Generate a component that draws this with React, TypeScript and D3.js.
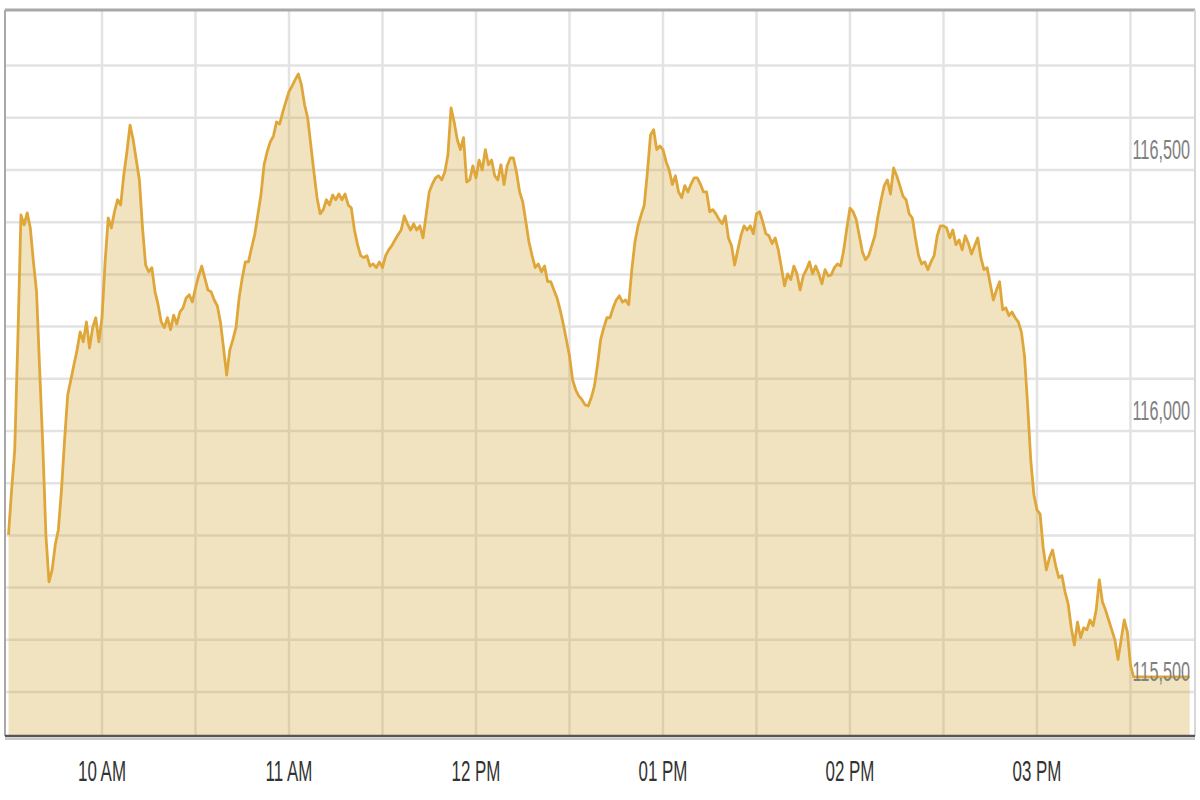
import React from "react";
import * as d3 from "d3";

// Intraday index values, one per minute starting 09:30
const prices: number[] = [
  115801, 115887, 115964, 116175, 116414, 116395, 116418, 116389, 116324, 116267,
  116117, 115973, 115801, 115711, 115734, 115782, 115811, 115887, 115983, 116069,
  116098, 116127, 116155, 116190, 116171, 116209, 116159, 116198, 116217, 116171,
  116217, 116324, 116408, 116389, 116420, 116443, 116433, 116491, 116535, 116586,
  116558, 116519, 116481, 116389, 116318, 116305, 116313, 116267, 116242, 116209,
  116198, 116217, 116194, 116222, 116205, 116228, 116236, 116255, 116261, 116247,
  116274, 116297, 116316, 116293, 116270, 116267, 116251, 116240, 116209, 116159,
  116107, 116155, 116175, 116198, 116255, 116293, 116324, 116324, 116351, 116376,
  116414, 116452, 116510, 116535, 116554, 116565, 116592, 116588, 116611, 116631,
  116650, 116661, 116673, 116684, 116663, 116625, 116600, 116548, 116496, 116447,
  116416, 116424, 116443, 116433, 116452, 116443, 116454, 116443, 116454, 116433,
  116427, 116385, 116357, 116336, 116332, 116336, 116316, 116320, 116313, 116324,
  116313, 116336, 116347, 116355, 116366, 116376, 116385, 116412, 116397, 116385,
  116397, 116385, 116393, 116370, 116414, 116458, 116473, 116485, 116489, 116481,
  116496, 116529, 116619, 116592, 116558, 116539, 116562, 116477, 116481, 116508,
  116485, 116519, 116500, 116539, 116510, 116519, 116489, 116481, 116510, 116472,
  116508, 116523, 116523, 116496, 116458, 116439, 116401, 116362, 116336, 116313,
  116320, 116305, 116316, 116286, 116286, 116270, 116255, 116232, 116205, 116175,
  116144, 116098, 116079, 116067, 116060, 116050, 116048, 116064, 116086, 116127,
  116175, 116198, 116217, 116217, 116236, 116251, 116259, 116247, 116251, 116242,
  116309, 116362, 116393, 116414, 116433, 116496, 116567, 116577, 116539, 116546,
  116539, 116516, 116500, 116472, 116489, 116458, 116447, 116470, 116458, 116473,
  116485, 116485, 116473, 116458, 116458, 116420, 116424, 116416, 116405, 116397,
  116412, 116370, 116355, 116318, 116347, 116374, 116393, 116385, 116393, 116378,
  116416, 116420, 116401, 116378, 116374, 116359, 116370, 116347, 116313, 116278,
  116301, 116290, 116316, 116301, 116270, 116297, 116309, 116324, 116301, 116316,
  116301, 116282, 116309, 116297, 116299, 116313, 116320, 116316, 116347, 116389,
  116427, 116420, 116405, 116374, 116343, 116328, 116336, 116355, 116374, 116412,
  116443, 116470, 116481, 116454, 116504, 116489, 116470, 116450, 116443, 116416,
  116408, 116370, 116336, 116320, 116324, 116309, 116324, 116336, 116374, 116393,
  116393, 116389, 116370, 116385, 116357, 116366, 116347, 116374, 116359, 116339,
  116355, 116370, 116332, 116309, 116313, 116282, 116251, 116270, 116286, 116232,
  116236, 116221, 116228, 116217, 116209, 116190, 116144, 116050, 115945, 115878,
  115849, 115841, 115776, 115734, 115757, 115772, 115742, 115719, 115723, 115692,
  115669, 115623, 115590, 115634, 115604, 115623, 115619, 115638, 115627, 115657,
  115715, 115673, 115657, 115638, 115619, 115600, 115562, 115600, 115638, 115615,
  115552, 115529, 115529, 115529, 115529, 115529, 115529, 115529, 115529, 115529,
  115529, 115529, 115529, 115529, 115529, 115529, 115529, 115529, 115529, 115529,
];

const hourTicks: number[] = [10, 11, 12, 13, 14, 15];
const halfHourGrid: number[] = [10, 10.5, 11, 11.5, 12, 12.5, 13, 13.5, 14, 14.5, 15, 15.5];
const yLabelValues: number[] = [115500, 116000, 116500];
const yGridValues: number[] = [115500, 115600, 115700, 115800, 115900, 116000, 116100, 116200, 116300, 116400, 116500, 116600, 116700];

const day = (h: number, m = 0) => new Date(2024, 0, 2, h, m);

export default function App() {
  const W = 1200, H = 800;
  const left = 5, right = 1195, top = 10, bottom = 736;

  const start = day(9, 30);
  const data = prices.map((v, i) => ({ t: d3.timeMinute.offset(start, i), v }));

  const x = d3.scaleTime().domain([day(9, 30), day(15, 50)]).range([8.5, 1192.8]);
  const y = d3.scaleLinear().domain([115500, 116500]).range([692, 170]);

  const area = d3.area<{ t: Date; v: number }>()
    .x(d => x(d.t)).y0(bottom).y1(d => y(d.v));
  const line = d3.line<{ t: Date; v: number }>()
    .x(d => x(d.t)).y(d => y(d.v));

  const fmtHour = d3.timeFormat("%I %p");
  const fmtNum = d3.format(",");

  const hToDate = (h: number) => day(Math.floor(h), Math.round((h % 1) * 60));
  const font = "Liberation Sans, Arial, sans-serif";

  return (
    <svg width={W} height={H} style={{ position: "absolute", left: 0, top: 0, background: "#fff" }}>
      {/* grid */}
      {yGridValues.map(v => (
        <line key={"h" + v} x1={left} x2={right} y1={y(v)} y2={y(v)} stroke="#e3e3e3" strokeWidth={2.5} />
      ))}
      {halfHourGrid.map(h => (
        <line key={"v" + h} x1={x(hToDate(h))} x2={x(hToDate(h))} y1={top} y2={bottom} stroke="#e3e3e3" strokeWidth={2.5} />
      ))}
      {/* area + line */}
      <path d={area(data) || ""} fill="rgb(208,162,45)" fillOpacity={0.3} />
      <path d={line(data) || ""} fill="none" stroke="#dfa63a" strokeWidth={2.8} strokeLinejoin="round" />
      {/* frame */}
      <line x1={left} x2={right} y1={top} y2={top} stroke="#a8a8a8" strokeWidth={3} />
      <line x1={left} x2={left} y1={top} y2={bottom} stroke="#a8a8a8" strokeWidth={2} />
      <line x1={right} x2={right} y1={top} y2={bottom} stroke="#d8d8d8" strokeWidth={2} />
      <line x1={left} x2={right} y1={bottom + 3} y2={bottom + 3} stroke="#c8c8c8" strokeWidth={2} />
      <line x1={left} x2={right} y1={bottom} y2={bottom} stroke="#555" strokeWidth={2.5} />
      {/* y labels */}
      {yLabelValues.map(v => (
        <text key={"yl" + v} transform={`translate(1190,${y(v) - 11}) scale(0.58,1)`} textAnchor="end"
          fontFamily={font} fontSize={28} fill="#808080">{fmtNum(v)}</text>
      ))}
      {/* x labels */}
      {hourTicks.map(h => (
        <text key={"xl" + h} transform={`translate(${x(day(h))},781) scale(0.565,1)`} textAnchor="middle"
          fontFamily={font} fontSize={30} fill="#333">{fmtHour(day(h))}</text>
      ))}
    </svg>
  );
}
